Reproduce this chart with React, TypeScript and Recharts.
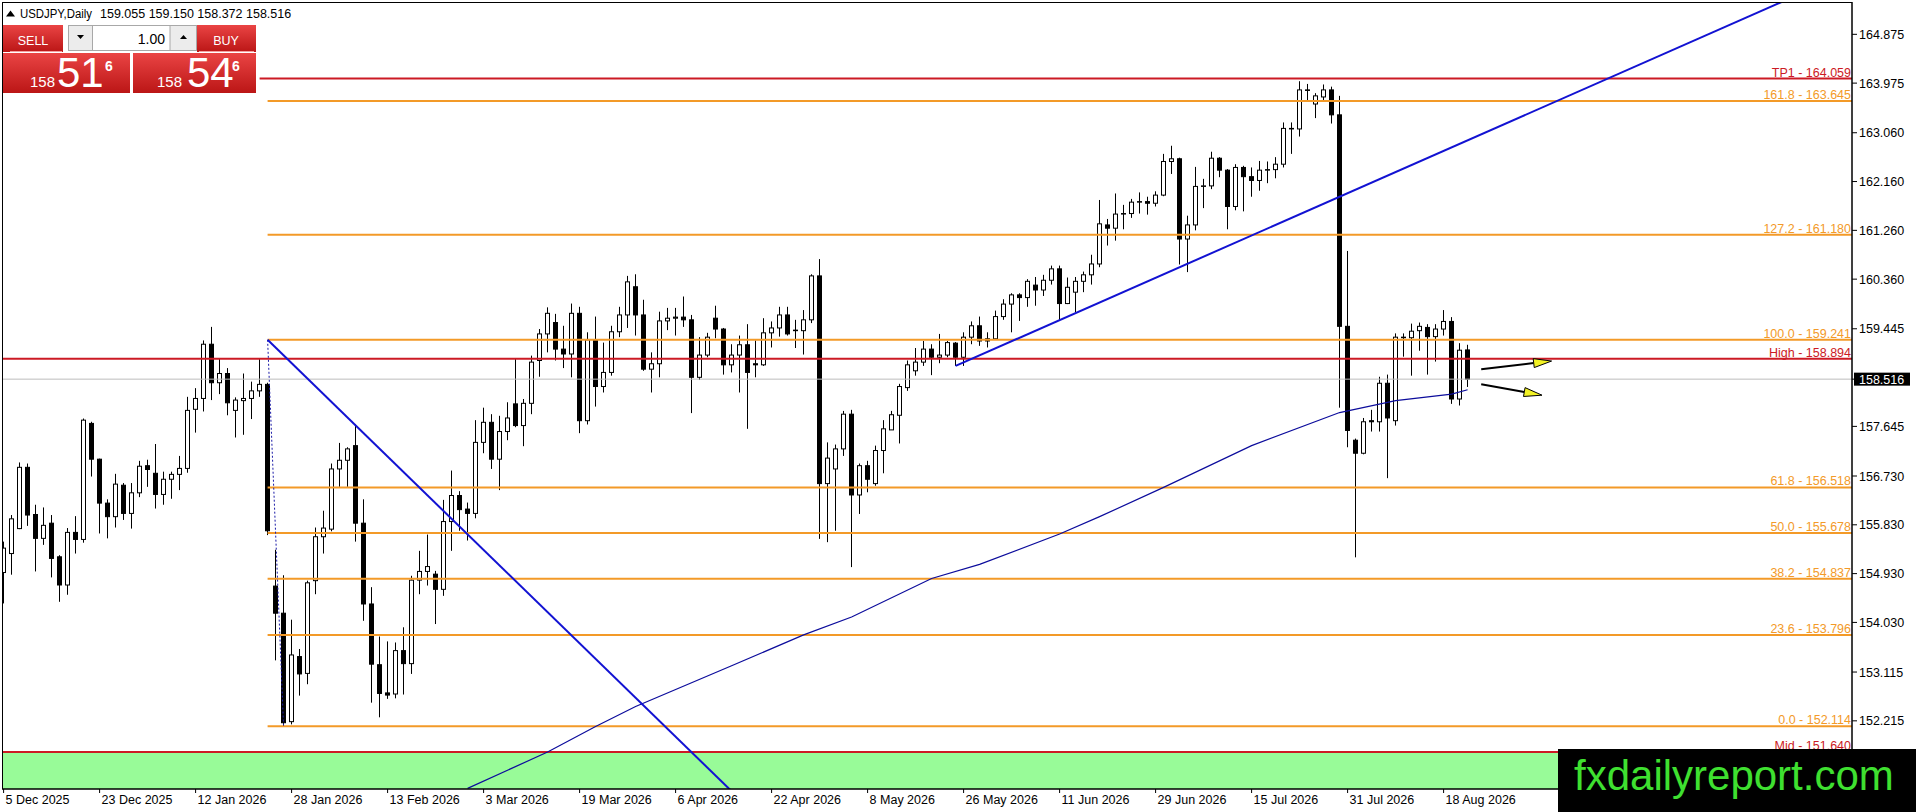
import {
  ComposedChart,
  Bar,
  Line,
  XAxis,
  YAxis,
  ReferenceLine,
  ReferenceArea,
} from "recharts";

// daily candles, bar 0 = 5 Dec 2025
const opens = [
  154.95, 155.3, 155.76, 156.89, 156.02, 155.58, 155.86, 155.24, 154.72, 155.69,
  155.56, 157.7, 157.04, 156.23, 155.98, 156.56, 156.04, 156.42, 156.92, 156.78,
  156.39, 156.67, 156.76, 156.87, 157.96, 158.16, 159.16, 158.45, 158.62, 157.94,
  158.12, 158.16, 158.3, 158.42, 154.7, 154.2, 152.2, 153.4, 153.09, 154.8,
  155.61, 155.75, 156.86, 157.02, 157.29, 155.86, 154.37, 153.25, 152.73, 152.71,
  153.51, 153.27, 154.81, 154.97, 154.92, 154.64, 155.89, 156.37, 156.12, 156.04,
  157.35, 157.72, 157.04, 157.55, 158.06, 157.66, 158.07, 158.86, 159.35, 159.56,
  159.07, 158.98, 159.73, 157.75, 159.24, 158.38, 158.64, 159.39, 159.7, 160.22,
  159.7, 158.7, 158.8, 159.59, 159.64, 159.66, 159.61, 158.55, 158.96, 159.64,
  159.44, 158.78, 158.96, 159.15, 158.8, 158.78, 159.37, 159.46, 159.7, 159.42,
  159.41, 159.61, 160.42, 156.59, 156.86, 157.23, 157.87, 156.38, 156.92, 156.59,
  157.2, 157.58, 157.85, 158.36, 158.67, 158.83, 159.07, 158.92, 158.96, 159.18,
  158.92, 159.29, 159.5, 159.26, 159.26, 159.67, 159.9, 160.07, 160.02, 160.25,
  160.16, 160.34, 160.55, 159.91, 160.12, 160.32, 160.44, 160.64, 161.36, 161.3,
  161.56, 161.57, 161.78, 161.79, 161.76, 161.91, 162.53, 162.58, 161.1, 161.36,
  162.07, 162.08, 162.59, 162.37, 161.7, 162.42, 162.25, 162.18, 162.37, 162.38,
  162.48, 163.14, 163.13, 163.85, 163.59, 163.72, 163.85, 163.39, 159.49, 157.39,
  157.15, 157.75, 157.73, 158.44, 157.75, 159.29, 159.28, 159.41, 159.47, 159.3,
  159.44, 159.58, 158.15, 159.055,
];
const highs = [
  155.52, 156.01, 156.98, 156.96, 156.2, 156.15, 156.01, 155.27, 155.77, 155.99,
  157.79, 157.73, 157.05, 156.3, 156.77, 156.6, 156.6, 157.01, 157.03, 157.32,
  156.81, 156.81, 157.1, 158.19, 158.35, 159.23, 159.48, 158.89, 158.72, 158.18,
  158.62, 158.47, 158.89, 158.45, 155.37, 154.9, 154.08, 153.54, 154.8, 155.78,
  156.09, 156.96, 157.34, 157.26, 157.68, 156.3, 154.68, 153.77, 153.68, 153.66,
  153.94, 154.89, 155.35, 155.65, 154.98, 156.29, 156.83, 156.45, 156.24, 157.76,
  157.99, 157.87, 157.84, 158.09, 158.89, 158.15, 158.95, 159.44, 159.84, 159.72,
  159.5, 159.91, 159.85, 159.38, 159.67, 159.19, 159.5, 159.85, 160.42, 160.45,
  159.98, 159.01, 159.76, 159.83, 159.83, 160.04, 159.7, 159.29, 159.37, 159.87,
  159.46, 159.16, 159.32, 159.53, 159.23, 159.64, 159.58, 159.85, 159.85, 159.61,
  159.79, 160.45, 160.73, 157.35, 157.31, 157.93, 157.95, 156.96, 157.01, 157.29,
  157.76, 157.93, 158.43, 158.86, 159.09, 159.22, 159.16, 159.35, 159.22, 159.2,
  159.38, 159.58, 159.67, 159.38, 159.78, 159.99, 160.1, 160.1, 160.36, 160.4,
  160.44, 160.61, 160.61, 160.39, 160.4, 160.5, 160.81, 161.82, 161.47, 161.94,
  161.73, 161.84, 161.96, 161.88, 161.98, 162.67, 162.82, 162.6, 161.53, 162.43,
  162.21, 162.71, 162.61, 162.39, 162.48, 162.45, 162.42, 162.54, 162.53, 162.61,
  163.25, 163.25, 164.01, 163.96, 163.79, 163.95, 163.91, 163.74, 160.88, 157.42,
  157.8, 157.95, 158.56, 158.6, 159.36, 159.36, 159.54, 159.56, 159.53, 159.53,
  159.79, 159.66, 159.18, 159.15,
];
const lows = [
  154.38, 154.91, 155.75, 155.81, 154.97, 155.46, 154.86, 154.41, 154.54, 155.3,
  155.5, 156.72, 155.67, 155.58, 155.78, 155.92, 155.76, 156.34, 156.53, 156.13,
  156.2, 156.31, 156.47, 156.79, 157.53, 157.92, 158.13, 158.24, 157.85, 157.44,
  157.49, 157.78, 158.19, 155.64, 153.33, 152.11, 152.15, 152.68, 152.89, 154.55,
  155.3, 155.71, 156.53, 156.53, 155.52, 154.06, 152.55, 152.28, 152.62, 152.63,
  152.7, 153.08, 154.55, 154.71, 154.0, 154.52, 155.35, 155.72, 155.54, 155.95,
  157.15, 156.86, 156.47, 157.39, 157.63, 157.28, 157.87, 158.56, 159.01, 158.86,
  158.72, 158.55, 157.52, 157.68, 158.01, 158.27, 158.58, 159.29, 159.46, 159.32,
  158.67, 158.27, 158.55, 159.42, 159.32, 159.48, 157.89, 158.5, 158.92, 159.27,
  158.6, 158.64, 158.27, 157.6, 158.55, 158.76, 159.1, 159.3, 159.32, 159.09,
  158.97, 159.55, 155.57, 155.51, 155.72, 157.1, 155.05, 156.03, 156.43, 156.55,
  156.78, 157.58, 157.33, 158.3, 158.58, 158.76, 158.59, 158.81, 158.92, 158.76,
  158.76, 159.16, 159.13, 159.1, 159.25, 159.61, 159.38, 159.59, 159.85, 159.87,
  160.05, 160.26, 159.59, 159.9, 159.75, 160.12, 160.26, 160.58, 160.98, 161.07,
  161.28, 161.49, 161.57, 161.55, 161.7, 161.89, 162.3, 160.63, 160.49, 161.26,
  161.67, 162.02, 162.24, 161.28, 161.63, 161.61, 161.88, 161.99, 162.13, 162.22,
  162.42, 162.67, 162.99, 163.65, 163.33, 163.66, 163.23, 157.99, 157.26, 155.23,
  157.13, 157.55, 157.55, 156.69, 157.66, 158.93, 158.58, 159.04, 158.6, 158.84,
  159.32, 158.06, 158.03, 158.372,
];
const closes = [
  155.4, 155.94, 156.89, 156.01, 155.58, 155.82, 155.21, 154.72, 155.69, 155.56,
  157.76, 157.04, 156.23, 155.98, 156.58, 156.04, 156.42, 156.91, 156.85, 156.39,
  156.67, 156.76, 156.87, 157.94, 158.16, 159.16, 158.45, 158.62, 158.08, 158.13,
  158.16, 158.3, 158.42, 155.72, 154.2, 152.18, 153.43, 153.08, 154.76, 155.61,
  155.77, 156.86, 157.02, 157.23, 155.86, 154.37, 153.26, 152.72, 152.69, 153.51,
  153.27, 154.81, 154.97, 155.06, 154.64, 155.89, 156.37, 156.11, 156.04, 157.35,
  157.72, 157.04, 157.55, 157.8, 157.66, 158.07, 158.83, 159.35, 159.73, 159.07,
  158.98, 159.73, 157.75, 159.24, 158.38, 158.64, 159.39, 159.7, 160.31, 159.7,
  158.7, 158.8, 159.59, 159.64, 159.66, 159.61, 158.55, 158.96, 159.29, 159.44,
  158.78, 158.96, 159.15, 158.64, 158.78, 159.37, 159.46, 159.7, 159.35, 159.41,
  159.61, 160.42, 156.59, 157.06, 157.23, 157.87, 156.38, 156.92, 156.67, 157.2,
  157.6, 157.86, 158.38, 158.78, 158.83, 159.07, 158.92, 158.96, 159.19, 158.92,
  159.29, 159.5, 159.22, 159.22, 159.67, 159.9, 160.07, 160.02, 160.32, 160.16,
  160.34, 160.55, 159.91, 160.21, 160.32, 160.44, 160.64, 161.38, 161.3, 161.56,
  161.57, 161.78, 161.79, 161.76, 161.91, 162.53, 162.58, 161.1, 161.36, 162.07,
  162.08, 162.59, 162.37, 161.7, 162.42, 162.25, 162.18, 162.37, 162.38, 162.48,
  163.14, 163.13, 163.85, 163.84, 163.74, 163.85, 163.39, 159.49, 157.57, 157.15,
  157.73, 157.73, 158.44, 157.8, 159.29, 159.28, 159.4, 159.49, 159.3, 159.44,
  159.58, 158.15, 159.05, 158.516,
];

// moving average read at a few bars
const maBars = [58, 68, 74, 79, 91, 100, 106, 116, 122, 132, 137, 145, 156, 167, 174, 181, 183];
const maValues = [
  150.97, 151.64, 152.11, 152.48, 153.23, 153.8, 154.13, 154.84, 155.1, 155.66,
  155.98, 156.52, 157.29, 157.9, 158.12, 158.24, 158.32,
];

const dateTicks = [0, 12, 24, 36, 48, 60, 72, 84, 96, 108, 120, 132, 144, 156, 168, 180];
const dateLabels = [
  "5 Dec 2025", "23 Dec 2025", "12 Jan 2026", "28 Jan 2026", "13 Feb 2026",
  "3 Mar 2026", "19 Mar 2026", "6 Apr 2026", "22 Apr 2026", "8 May 2026",
  "26 May 2026", "11 Jun 2026", "29 Jun 2026", "15 Jul 2026", "31 Jul 2026",
  "18 Aug 2026",
];

const priceTicks = [
  164.875, 163.975, 163.06, 162.16, 161.26, 160.36, 159.445, 157.645, 156.73,
  155.83, 154.93, 154.03, 153.115, 152.215,
];
const lastPrice = 158.516;

const fiboRatios = ["0.0", "23.6", "38.2", "50.0", "61.8", "100.0", "127.2", "161.8"];
const fiboPrices = [152.114, 153.796, 154.837, 155.678, 156.518, 159.241, 161.18, 163.645];
const fiboStartBar = 33;

const tp1Price = 164.059;
const highPrice = 158.894;
const midPrice = 151.64;

const downTrend = [{ x: 33, y: 159.241 }, { x: 93, y: 150.631 }];
const upTrend = [{ x: 119, y: 158.76 }, { x: 225, y: 165.65 }];
const fiboDiagonal = [{ x: 33, y: 159.241 }, { x: 35, y: 152.114 }];
const arrowUp = [{ x: 184.7, y: 158.7 }, { x: 193.5, y: 158.85 }];
const arrowDown = [{ x: 184.7, y: 158.42 }, { x: 192.3, y: 158.22 }];

const X_DOMAIN: [number, number] = [-0.2, 231.05];
const Y_DOMAIN: [number, number] = [150.958, 165.471];

const RED = "#cc1a24";
const ORANGE = "#f39a28";
const FONT = "'Liberation Sans', Arial, sans-serif";

const maByBar = new Map(maBars.map((b, k) => [b, maValues[k]]));
const rows = opens.map((o, i) => ({
  i,
  o,
  h: highs[i],
  l: lows[i],
  c: closes[i],
  range: [lows[i], highs[i]],
  ma: maByBar.has(i) ? maByBar.get(i) : null,
}));

function Candle(props: any) {
  const { x, y, width, height, payload } = props;
  if (!payload || x == null) return null;
  const { o, h, l, c } = payload;
  const top = Math.min(y, y + height);
  const span = Math.abs(height);
  const k = h > l ? span / (h - l) : 0;
  const cx = Math.round(x + width / 2) + 0.5;
  const bTop = top + (h - Math.max(o, c)) * k;
  const bBot = top + (h - Math.min(o, c)) * k;
  const up = c >= o;
  return (
    <g>
      <line x1={cx} x2={cx} y1={top} y2={top + span} stroke="#000" strokeWidth={1} />
      <rect
        x={cx - 2}
        y={bTop}
        width={4}
        height={Math.max(bBot - bTop, 0.5)}
        fill={up ? "#fff" : "#000"}
        stroke="#000"
        strokeWidth={1}
      />
    </g>
  );
}

function Arrow(props: any) {
  const { x1, y1, x2, y2 } = props;
  const dx = x2 - x1;
  const dy = y2 - y1;
  const len = Math.hypot(dx, dy) || 1;
  const ux = dx / len;
  const uy = dy / len;
  const bx = x2 - ux * 18;
  const by = y2 - uy * 18;
  const px = -uy * 4.5;
  const py = ux * 4.5;
  return (
    <g>
      <line x1={x1} y1={y1} x2={bx} y2={by} stroke="#000" strokeWidth={2} />
      <polygon
        points={`${x2},${y2} ${bx + px},${by + py} ${bx - px},${by - py}`}
        fill="#f2f224"
        stroke="#000"
        strokeWidth={1}
      />
    </g>
  );
}

const levelLabel = (text: string, color: string) => (props: any) => {
  const vb = props.viewBox || {};
  const right = (vb.x ?? 0) + (vb.width ?? 0);
  return (
    <text x={right - 1} y={(vb.y ?? 0) - 2} textAnchor="end" fill={color} fontSize={12.5} fontFamily={FONT}>
      {text}
    </text>
  );
};

function DateTick(props: any) {
  const { x, y, payload } = props;
  const idx = dateTicks.indexOf(payload.value);
  return (
    <text x={x + 2} y={y + 11} fill="#000" fontSize={12.5} fontFamily={FONT}>
      {dateLabels[idx]}
    </text>
  );
}

function PriceTick(props: any) {
  const { x, y, payload } = props;
  const v = payload.value;
  if (v === lastPrice) {
    return (
      <g>
        <rect x={x - 3} y={y - 6.5} width={56} height={13} fill="#000" />
        <text x={x + 2} y={y + 4.5} fill="#fff" fontSize={12.5} fontFamily={FONT}>
          {v.toFixed(3)}
        </text>
      </g>
    );
  }
  return (
    <text x={x + 2} y={y + 4.5} fill="#000" fontSize={12.5} fontFamily={FONT}>
      {v.toFixed(3)}
    </text>
  );
}

function TradePanel() {
  return (
    <svg width={1916} height={812} style={{ position: "absolute", left: 0, top: 0, pointerEvents: "none" }}>
      <defs>
        <linearGradient id="redBox" x1="0" y1="0" x2="0" y2="1">
          <stop offset="0" stopColor="#ea4444" />
          <stop offset="1" stopColor="#bb1616" />
        </linearGradient>
      </defs>
      {/* frame */}
      <rect x={2.5} y={2.5} width={1849.5} height={786.5} fill="none" stroke="#000" strokeWidth={1} />
      {/* header */}
      <polygon points="6,16.5 10.5,10.5 15,16.5" fill="#000" />
      <text x={20} y={17.5} fontSize={12.5} fontFamily={FONT} fill="#000" textLength={72} lengthAdjust="spacingAndGlyphs">
        USDJPY,Daily
      </text>
      <text x={100} y={17.5} fontSize={12.5} fontFamily={FONT} fill="#000">159.055 159.150 158.372 158.516</text>
      {/* sell / buy buttons */}
      <rect x={3} y={25} width={60} height={27} fill="url(#redBox)" />
      <text x={33} y={44.5} textAnchor="middle" fontSize={12.5} fontFamily={FONT} fill="#fff">SELL</text>
      <line x1={10} x2={62} y1={51.5} y2={51.5} stroke="#f3a0a0" />
      <rect x={197} y={25} width={59} height={27} fill="url(#redBox)" />
      <text x={226} y={44.5} textAnchor="middle" fontSize={12.5} fontFamily={FONT} fill="#fff">BUY</text>
      <line x1={199} x2={254} y1={51.5} y2={51.5} stroke="#f3a0a0" />
      {/* lot spinner */}
      <rect x={68.5} y={25.5} width={128} height={25} fill="#ececec" stroke="#a8a8a8" />
      <rect x={92.5} y={25.5} width={77.5} height={25} fill="#fff" stroke="#a8a8a8" />
      <polygon points="77,35 84,35 80.5,39" fill="#000" />
      <polygon points="180,39 187,39 183.5,35" fill="#000" />
      <text x={165} y={43.5} textAnchor="end" fontSize={14} fontFamily={FONT} fill="#000">1.00</text>
      {/* price boxes */}
      <rect x={3} y={53} width={127} height={40} fill="url(#redBox)" />
      <rect x={133} y={53} width={123} height={40} fill="url(#redBox)" />
      <text x={30} y={86.5} fontSize={15} fontFamily={FONT} fill="#fff">158</text>
      <text x={57} y={87} fontSize={42} fontFamily={FONT} fill="#fff">51</text>
      <text x={105} y={70.5} fontSize={14} fontWeight="bold" fontFamily={FONT} fill="#fff">6</text>
      <text x={157} y={86.5} fontSize={15} fontFamily={FONT} fill="#fff">158</text>
      <text x={187} y={87} fontSize={42} fontFamily={FONT} fill="#fff">54</text>
      <text x={232} y={70.5} fontSize={14} fontWeight="bold" fontFamily={FONT} fill="#fff">6</text>
      {/* watermark */}
      <rect x={1558} y={749} width={358} height={63} fill="#000" />
      <text x={1574} y={790} fontSize={42} fontFamily={FONT} fill="#3fe030">fxdailyreport.com</text>
    </svg>
  );
}

export default function App() {
  return (
    <div
      style={{
        position: "absolute",
        left: 0,
        top: 0,
        width: 1916,
        height: 812,
        background: "#fff",
        overflow: "hidden",
        fontFamily: FONT,
      }}
    >
      <ComposedChart width={1916} height={812} data={rows} margin={{ top: 2, right: 0, bottom: 0, left: 2 }}>
        <XAxis
          dataKey="i"
          type="number"
          domain={X_DOMAIN}
          allowDataOverflow
          ticks={dateTicks}
          tick={<DateTick />}
          tickSize={4}
          tickMargin={0}
          height={23}
          stroke="#000"
          interval={0}
        />
        <YAxis
          orientation="right"
          type="number"
          domain={Y_DOMAIN}
          allowDataOverflow
          ticks={[...priceTicks, lastPrice]}
          tick={<PriceTick />}
          tickSize={5}
          tickMargin={0}
          width={64}
          stroke="#000"
          interval={0}
        />
        <ReferenceArea
          x1={X_DOMAIN[0]}
          x2={X_DOMAIN[1]}
          y1={Y_DOMAIN[0]}
          y2={midPrice}
          fill="#98fb98"
          fillOpacity={1}
          stroke="none"
          ifOverflow="hidden"
        />
        <ReferenceLine y={lastPrice} stroke="#bdbdbd" strokeWidth={1} />
        {fiboPrices.map((p, k) => (
          <ReferenceLine
            key={fiboRatios[k]}
            segment={[{ x: fiboStartBar, y: p }, { x: X_DOMAIN[1], y: p }]}
            stroke={ORANGE}
            strokeWidth={2}
            ifOverflow="visible"
            label={levelLabel(`${fiboRatios[k]} - ${p.toFixed(3)}`, ORANGE)}
          />
        ))}
        <ReferenceLine
          segment={[{ x: 32, y: tp1Price }, { x: X_DOMAIN[1], y: tp1Price }]}
          stroke={RED}
          strokeWidth={2}
          ifOverflow="visible"
          label={levelLabel(`TP1 - ${tp1Price.toFixed(3)}`, RED)}
        />
        <ReferenceLine y={highPrice} stroke={RED} strokeWidth={2} label={levelLabel(`High - ${highPrice.toFixed(3)}`, RED)} />
        <ReferenceLine y={midPrice} stroke={RED} strokeWidth={2} label={levelLabel(`Mid - ${midPrice.toFixed(3)}`, RED)} />
        <ReferenceLine segment={fiboDiagonal} stroke="#1a1aa8" strokeWidth={1} strokeDasharray="2 2" ifOverflow="visible" />
        <Bar dataKey="range" barSize={5} shape={<Candle />} isAnimationActive={false} />
        <Line
          dataKey="ma"
          type="linear"
          stroke="#0c0c9c"
          strokeWidth={1.2}
          dot={false}
          connectNulls
          isAnimationActive={false}
        />
        <ReferenceLine segment={downTrend} stroke="#1212d2" strokeWidth={2} ifOverflow="hidden" />
        <ReferenceLine segment={upTrend} stroke="#1212d2" strokeWidth={2} ifOverflow="hidden" />
        <ReferenceLine segment={arrowUp} ifOverflow="visible" shape={<Arrow />} />
        <ReferenceLine segment={arrowDown} ifOverflow="visible" shape={<Arrow />} />
      </ComposedChart>
      <TradePanel />
    </div>
  );
}
